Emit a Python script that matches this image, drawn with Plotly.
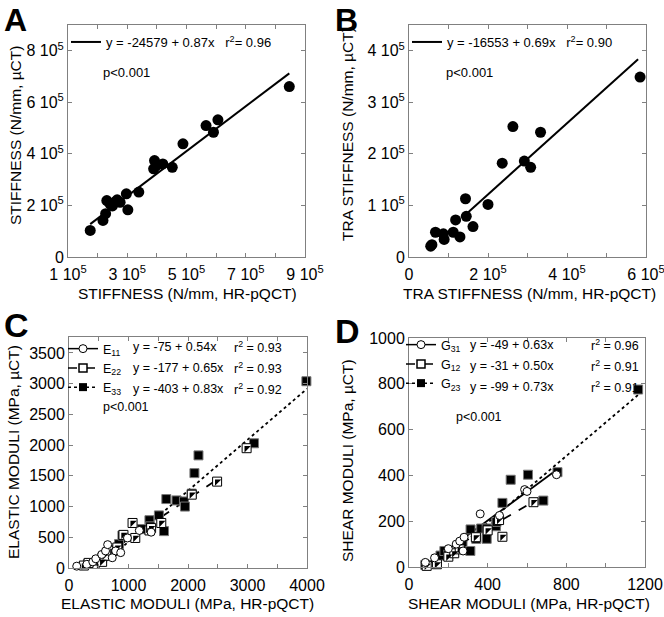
import plotly.graph_objects as go

W, H = 664, 617
FONT = "Liberation Sans, Arial, sans-serif"

# ---- panel A: stiffness ----
a_x = [175000, 218000, 227000, 231000, 242000, 250000, 258000, 266000, 276000, 297000,
       302000, 339000, 389000, 392000, 398000, 420000, 452000, 488000, 566000, 591000,
       606000, 847000]
a_y = [103000, 142000, 168000, 219000, 205000, 198000, 213000, 222000, 212000, 245000,
       183000, 252000, 342000, 374000, 355000, 361000, 348000, 439000, 510000, 484000,
       532000, 661000]
a_fit = [-24579, 0.87]
a_fit_x = [175000, 847000]

# ---- panel B: transverse stiffness ----
b_x = [55000, 58000, 67000, 87000, 89000, 112000, 118000, 129000, 143000, 145000,
       162000, 200000, 236000, 263000, 292000, 308000, 333000, 585000]
b_y = [21000, 24000, 48000, 45000, 34000, 48000, 72000, 39000, 113000, 79000,
       59000, 102000, 182000, 253000, 186000, 174000, 242000, 349000]
b_fit = [-16553, 0.69]
b_fit_x = [145000, 580000]

# ---- panel C: elastic moduli ----
e11_x = [130, 300, 400, 450, 550, 614, 650, 727, 784, 869, 983, 1182, 1381]
e11_y = [30, 60, 100, 150, 220, 278, 380, 167, 278, 250, 489, 611, 583]
e22_x = [250, 330, 557, 600, 727, 812, 915, 1068, 1114, 1352, 1380, 1551, 2063, 2489, 2985]
e22_y = [40, 83, 100, 200, 278, 333, 539, 733, 489, 611, 650, 733, 1194, 1406, 1950]
e33_x = [318, 528, 557, 642, 756, 841, 898, 1227, 1352, 1364, 1511, 1597, 1636, 1807,
         1932, 1949, 2063, 2108, 2176, 3110, 3990]
e33_y = [67, 111, 167, 250, 289, 389, 528, 633, 778, 678, 856, 600, 1122, 1100,
         1083, 1000, 1211, 1544, 1833, 2030, 3040]
c_fits = [[-75, 0.54], [-177, 0.65], [-403, 0.83]]
c_fit_x = [[130, 1400], [300, 2500], [318, 4000]]
c_r2 = ["0.93", "0.93", "0.92"]

# ---- panel D: shear moduli ----
g31_x = [83, 130, 200, 240, 258, 275, 280, 362, 460, 588, 600, 750]
g31_y = [20, 40, 80, 100, 113, 70, 130, 232, 225, 338, 330, 403]
g12_x = [90, 142, 200, 230, 258, 340, 400, 458, 475, 633]
g12_y = [5, 12, 45, 60, 77, 130, 160, 205, 132, 283]
g23_x = [83, 160, 180, 200, 272, 312, 313, 342, 367, 395, 395, 442, 445, 475, 517,
         605, 683, 755, 1165]
g23_y = [9, 50, 70, 55, 106, 70, 164, 123, 168, 168, 123, 178, 197, 280, 381,
         403, 290, 414, 775]
d_fits = [[-49, 0.63], [-31, 0.50], [-99, 0.73]]
d_fit_x = [[83, 760], [83, 640], [83, 1165]]
d_r2 = ["0.96", "0.91", "0.91"]


def fit_line(coef, xs):
    return [coef[0] + coef[1] * v for v in xs]


def sci(v):
    return "0" if v == 0 else "%d 10<sup>5</sup>" % round(v / 1e5)


fig = go.Figure()

# scatter A / B
fig.add_trace(go.Scatter(x=a_fit_x, y=fit_line(a_fit, a_fit_x), mode="lines",
                         line=dict(color="black", width=2), showlegend=False,
                         xaxis="x", yaxis="y"))
fig.add_trace(go.Scatter(x=a_x, y=a_y, mode="markers", cliponaxis=False,
                         marker=dict(symbol="circle", size=11, color="black"),
                         showlegend=False, xaxis="x", yaxis="y"))
fig.add_trace(go.Scatter(x=b_fit_x, y=fit_line(b_fit, b_fit_x), mode="lines",
                         line=dict(color="black", width=2), showlegend=False,
                         xaxis="x2", yaxis="y2"))
fig.add_trace(go.Scatter(x=b_x, y=b_y, mode="markers", cliponaxis=False,
                         marker=dict(symbol="circle", size=11, color="black"),
                         showlegend=False, xaxis="x2", yaxis="y2"))

# legend-only entries for A / B
fig.add_trace(go.Scatter(x=[None], y=[None], mode="lines", line=dict(color="black", width=2),
                         name="y = -24579 + 0.87x\u00a0\u00a0 r<sup>2</sup>= 0.96",
                         legend="legend", xaxis="x", yaxis="y"))
fig.add_trace(go.Scatter(x=[None], y=[None], mode="lines", line=dict(color="black", width=2),
                         name="y = -16553 + 0.69x\u00a0\u00a0 r<sup>2</sup>= 0.90",
                         legend="legend2", xaxis="x2", yaxis="y2"))

dashes = ["solid", "dash", "dot"]


def moduli_panel(xa, ya, leg, series, fits, fit_xs, names):
    # fit lines first, points on top
    for coef, fx, dash in zip(fits, fit_xs, dashes):
        fig.add_trace(go.Scatter(x=fx, y=fit_line(coef, fx), mode="lines",
                                 line=dict(color="black", width=1.8, dash=dash),
                                 showlegend=False, xaxis=xa, yaxis=ya))
    (x1, y1), (x2, y2), (x3, y3) = series
    fig.add_trace(go.Scatter(x=x3, y=y3, mode="markers", cliponaxis=False,
                             marker=dict(symbol="square", size=9, color="black",
                                         line=dict(color="#777", width=1)),
                             showlegend=False, xaxis=xa, yaxis=ya))
    fig.add_trace(go.Scatter(x=x2, y=y2, mode="markers", cliponaxis=False,
                             marker=dict(symbol="square", size=9, color="white",
                                         line=dict(color="black", width=1)),
                             showlegend=False, xaxis=xa, yaxis=ya))
    fig.add_trace(go.Scatter(x=x2, y=y2, mode="markers", cliponaxis=False,
                             marker=dict(symbol="triangle-nw", size=7, color="black",
                                         line=dict(width=0)),
                             showlegend=False, xaxis=xa, yaxis=ya))
    fig.add_trace(go.Scatter(x=x1, y=y1, mode="markers", cliponaxis=False,
                             marker=dict(symbol="circle", size=8, color="white",
                                         line=dict(color="black", width=1)),
                             showlegend=False, xaxis=xa, yaxis=ya))
    # legend-only entries
    marks = [dict(symbol="circle", size=8, color="white", line=dict(color="black", width=1)),
             dict(symbol="square", size=8, color="white", line=dict(color="black", width=1.5)),
             dict(symbol="square", size=8, color="black")]
    for i, (nm, mk, dash) in enumerate(zip(names, marks, dashes)):
        fig.add_trace(go.Scatter(x=[None], y=[None], mode="lines+markers", name=nm,
                                 line=dict(color="black", width=1.5, dash=dash), marker=mk,
                                 legend=leg, legendgroup=leg + str(i), xaxis=xa, yaxis=ya))


moduli_panel("x3", "y3", "legend3", [(e11_x, e11_y), (e22_x, e22_y), (e33_x, e33_y)],
             c_fits, c_fit_x, ["E<sub>11</sub>", "E<sub>22</sub>", "E<sub>33</sub>"])
moduli_panel("x4", "y4", "legend4", [(g31_x, g31_y), (g12_x, g12_y), (g23_x, g23_y)],
             d_fits, d_fit_x, ["G<sub>31</sub>", "G<sub>12</sub>", "G<sub>23</sub>"])

axis_style = dict(showline=True, linecolor="#808080", linewidth=1, mirror="ticks",
                  ticks="inside", ticklen=4, tickcolor="#808080", showgrid=False,
                  zeroline=False, automargin=False, ticklabeloverflow="allow",
                  tickfont=dict(size=16, color="black", family=FONT))


def dom(p0, p1, vertical=False):
    if vertical:
        return [1 - p1 / H, 1 - p0 / H]
    return [p0 / W, p1 / W]


a_xt = list(range(100000, 900001, 100000))
b_xt = list(range(0, 600001, 100000))
fig.update_layout(
    xaxis=dict(axis_style, domain=dom(68, 305), range=[100000, 900000], anchor="y",
               ticklabelstandoff=3,
               tickvals=a_xt, ticktext=[sci(v) if (v // 100000) % 2 else "" for v in a_xt]),
    yaxis=dict(axis_style, domain=dom(25, 257, True), range=[0, 900000], anchor="x",
               tickvals=[0, 200000, 400000, 600000, 800000],
               ticktext=[sci(v) for v in [0, 200000, 400000, 600000, 800000]]),
    xaxis2=dict(axis_style, domain=dom(409, 646), range=[0, 600000], anchor="y2",
                ticklabelstandoff=3,
                tickvals=b_xt, ticktext=[sci(v) if (v // 100000) % 2 == 0 else "" for v in b_xt]),
    yaxis2=dict(axis_style, domain=dom(25, 257, True), range=[0, 450000], anchor="x2",
                tickvals=[0, 100000, 200000, 300000, 400000],
                ticktext=[sci(v) for v in [0, 100000, 200000, 300000, 400000]]),
    xaxis3=dict(axis_style, domain=dom(69, 307), range=[0, 4000], anchor="y3",
                ticklabelstandoff=3,
                tickvals=list(range(0, 4001, 500)),
                ticktext=[str(v) if v % 1000 == 0 else "" for v in range(0, 4001, 500)]),
    yaxis3=dict(axis_style, domain=dom(337, 568, True), range=[0, 3760], anchor="x3",
                tickvals=list(range(0, 3501, 500))),
    xaxis4=dict(axis_style, domain=dom(409, 645), range=[0, 1200], anchor="y4",
                ticklabelstandoff=3,
                tickvals=list(range(0, 1201, 200)),
                ticktext=[str(v) if v % 400 == 0 else "" for v in range(0, 1201, 200)]),
    yaxis4=dict(axis_style, domain=dom(338, 567, True), range=[0, 1000], anchor="x4",
                tickvals=list(range(0, 1001, 200))),
)

leg_common = dict(bgcolor="rgba(0,0,0,0)", borderwidth=0, xanchor="left", yanchor="top",
                  itemwidth=30, itemclick=False)
fig.update_layout(
    legend=dict(leg_common, x=66 / W, y=1 - 27 / H, font=dict(size=13, family=FONT, color="black")),
    legend2=dict(leg_common, x=407 / W, y=1 - 27 / H, font=dict(size=13, family=FONT, color="black")),
    legend3=dict(leg_common, x=63 / W, y=1 - 334 / H, tracegroupgap=0,
                 font=dict(size=12.5, family=FONT, color="black")),
    legend4=dict(leg_common, x=401 / W, y=1 - 330 / H, tracegroupgap=0,
                 font=dict(size=12.5, family=FONT, color="black")),
)


def note(text, x, y, size=13, xanchor="left", yanchor="middle", **kw):
    return dict(text=text, x=x / W, y=1 - y / H, xref="paper", yref="paper", showarrow=False,
                xanchor=xanchor, yanchor=yanchor,
                font=dict(size=size, color="black", family=FONT), **kw)


ann = [
    note("<b>A</b>", 2, 0, size=32, yanchor="top"),
    note("<b>B</b>", 333, 0, size=32, yanchor="top"),
    note("<b>C</b>", 2, 325, size=34),
    note("<b>D</b>", 333, 331, size=34),
    note("p<0.001", 101, 72),
    note("p<0.001", 444, 72),
    note("p<0.001", 101, 407, size=12.5),
    note("p<0.001", 454, 417, size=12.5),
    note("STIFFNESS (N/mm, HR-pQCT)", 187, 293, size=15.5, xanchor="center"),
    note("STIFFNESS (N/mm, \u00b5CT)", 15, 136, size=15.5, xanchor="center", textangle=-90),
    note("TRA STIFFNESS (N/mm, HR-pQCT)", 529, 293, size=15.5, xanchor="center"),
    note("TRA STIFFNESS (N/mm, \u00b5CT)", 347, 134, size=15.5, xanchor="center", textangle=-90),
    note("ELASTIC MODULI (MPa, HR-pQCT)", 187, 603, size=15.5, xanchor="center"),
    note("ELASTIC MODULI (MPa, \u00b5CT)", 13, 452, size=15.5, xanchor="center", textangle=-90),
    note("SHEAR MODULI (MPa, HR-pQCT)", 529, 603, size=15.5, xanchor="center"),
    note("SHEAR MODULI (MPa, \u00b5CT)", 347, 460, size=15.5, xanchor="center", textangle=-90),
]
rows = [347, 368, 389]
for coef, r2, yy in zip(c_fits, c_r2, rows):
    ann.append(note("y = %d + %.2fx" % (coef[0], coef[1]), 131, yy, size=12.5))
    ann.append(note("r<sup>2</sup> = %s" % r2, 232, yy, size=12.5))
for coef, r2, yy in zip(d_fits, d_r2, rows):
    ann.append(note("y = %d + %.2fx" % (coef[0], coef[1]), 468, yy - 2, size=12.5))
    ann.append(note("r<sup>2</sup> = %s" % r2, 589, yy - 2, size=12.5))

fig.update_layout(width=W, height=H, margin=dict(l=0, r=0, t=0, b=0),
                  paper_bgcolor="white", plot_bgcolor="white",
                  font=dict(family=FONT, color="black"), annotations=ann)

# the page's default body margin would shift the whole figure by 8 px
fig.write_html("out.html", config={"displayModeBar": False},
               post_script="document.body.style.margin='0';")
